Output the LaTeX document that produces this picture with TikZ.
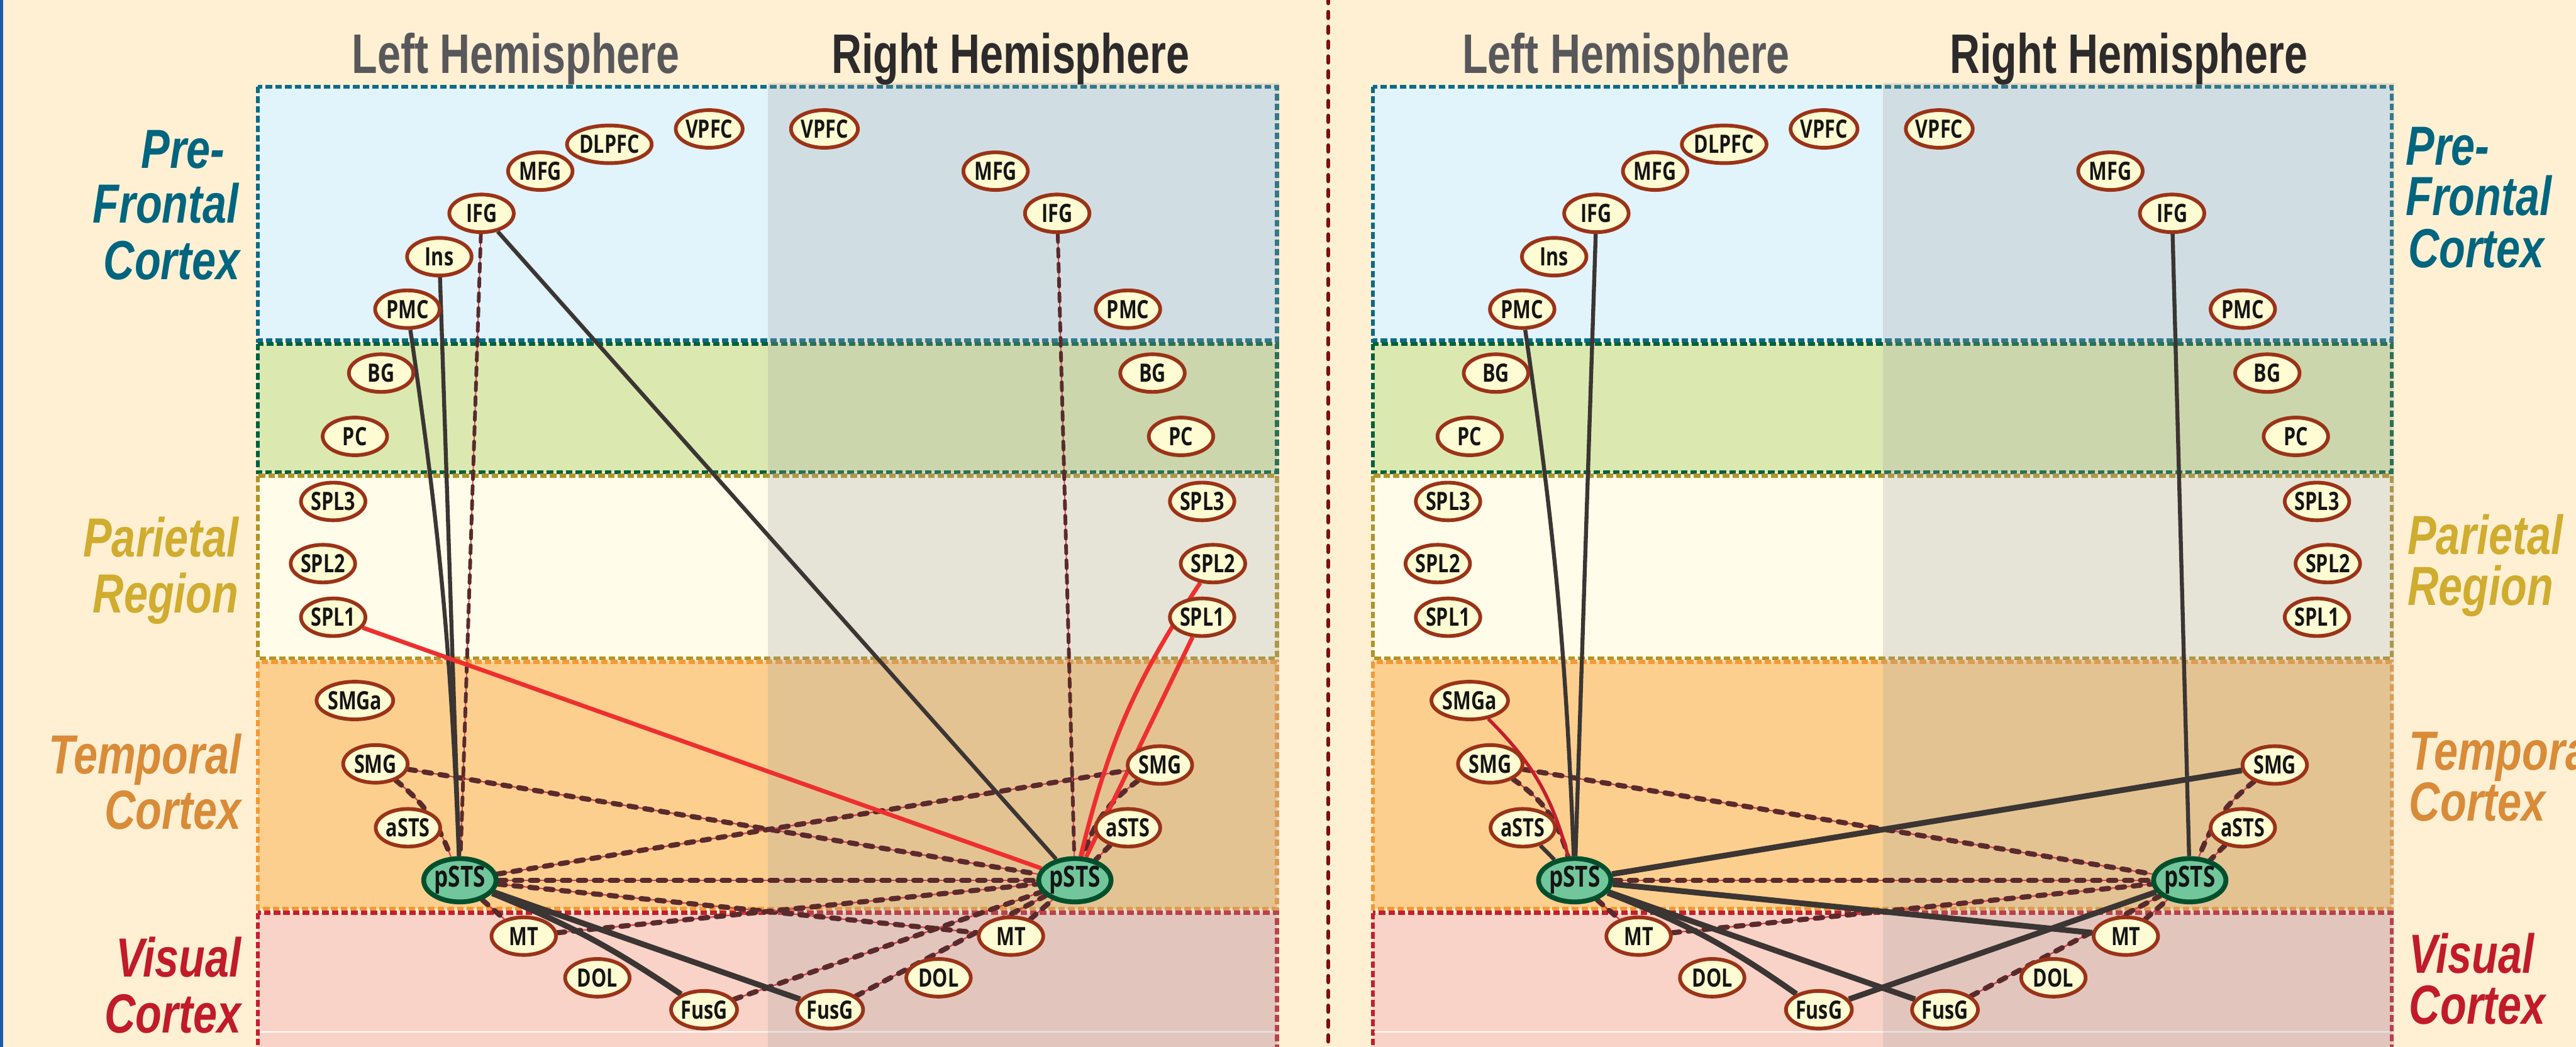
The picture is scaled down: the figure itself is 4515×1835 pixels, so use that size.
\documentclass[tikz,border=0pt]{standalone}
\usepackage{fontspec}
\usetikzlibrary{shapes.geometric}
\newfontfamily\nodefont{Open Sans}[FakeStretch=0.76]
\newfontfamily\headfont{Liberation Sans}[FakeStretch=0.75]
\newfontfamily\regfont{Liberation Sans}[FakeStretch=0.78]
\definecolor{bgcream}{HTML}{FFF0D4}
\definecolor{edgeblue}{HTML}{1A5CAA}
\definecolor{sepred}{HTML}{7A1012}
\definecolor{pffill}{HTML}{E1F3FB}
\definecolor{pfedge}{HTML}{0C6B86}
\definecolor{gnfill}{HTML}{DBE9B0}
\definecolor{gnedge}{HTML}{00603E}
\definecolor{parfill}{HTML}{FFFCE9}
\definecolor{paredge}{HTML}{B0952A}
\definecolor{tmpfill}{HTML}{FCCF8E}
\definecolor{tmpedge}{HTML}{F29A38}
\definecolor{visfill}{HTML}{F9D3C8}
\definecolor{visedge}{HTML}{C3202F}
\definecolor{shadegray}{HTML}{A2A2A2}
\definecolor{roifill}{HTML}{FFFBD2}
\definecolor{roiedge}{HTML}{9B3318}
\definecolor{hubfill}{HTML}{72C69B}
\definecolor{hubedge}{HTML}{00502D}
\definecolor{nodetext}{HTML}{151515}
\definecolor{linkdark}{HTML}{3B3533}
\definecolor{linkred}{HTML}{EE2F2F}
\definecolor{linkdkred}{HTML}{C41E2C}
\definecolor{dashdark}{HTML}{5A2A2C}
\definecolor{dashred}{HTML}{E0404A}
\definecolor{lefthead}{HTML}{58585B}
\definecolor{righthead}{HTML}{2D2A2B}
\definecolor{pflab}{HTML}{00657F}
\definecolor{parlab}{HTML}{D0AC2F}
\definecolor{tmplab}{HTML}{D98B38}
\definecolor{vislab}{HTML}{C11B29}
\pgfdeclarelayer{bg}
\pgfdeclarelayer{edges}
\pgfsetlayers{bg,edges,main}
\tikzset{
  roi/.style={ellipse, draw=roiedge, fill=roifill, line width=0.65mm,
    minimum width=11.3mm, minimum height=6.6mm, inner sep=0pt, text=nodetext,
    font=\nodefont\bfseries\fontsize{12.6}{13}\selectfont},
  hub/.style={ellipse, draw=hubedge, fill=hubfill, line width=0.85mm,
    minimum width=11.6mm, minimum height=7.6mm, inner sep=0pt, text=nodetext,
    font=\nodefont\bfseries\fontsize{14.5}{16}\selectfont},
  solidlink/.style={draw=linkdark, line width=0.7mm},
  heavylink/.style={draw=linkdark, line width=1.0mm},
  redlink/.style={draw=linkred, line width=0.75mm},
  dkredlink/.style={draw=linkdkred, line width=0.6mm},
  dashlink/.style={draw=dashdark, line width=0.9mm, line cap=round,
    dash pattern=on 1.3mm off 1.5mm,
    preaction={draw=dashred, line width=0.25mm, solid}},
  thindash/.style={draw=dashdark, line width=0.65mm, line cap=round,
    dash pattern=on 1.4mm off 1.2mm,
    preaction={draw=dashred, line width=0.2mm, solid}},
  boxdash/.style={line width=0.7mm, dash pattern=on 1.15mm off 0.55mm},
  lab/.style={font=\regfont\bfseries\itshape\fontsize{27.5}{28}\selectfont, inner sep=0pt},
  head/.style={font=\headfont\bfseries\fontsize{27.8}{30}\selectfont, inner sep=0pt, anchor=base},
}
\begin{document}
\begin{tikzpicture}[x=0.1mm,y=-0.1mm]
\useasboundingbox (0,0) rectangle (4515,1835);
\begin{pgfonlayer}{bg}
\fill[bgcream] (0,0) rectangle (4515,1835);
\fill[edgeblue] (0,0) rectangle (6,1835);
\draw[sepred, line width=0.75mm, line cap=round, dash pattern=on 1.05mm off 1.55mm] (2328,-5) -- (2328,1850);
\foreach \dx in {0,1954}{
 \begin{scope}[shift={(\dx,0)}]
  \fill[pffill] (452,152) rectangle (2238,597);
  \fill[gnfill] (452,603) rectangle (2238,828);
  \fill[parfill] (452,834) rectangle (2238,1154);
  \fill[tmpfill] (452,1160) rectangle (2238,1593);
  \fill[visfill] (452,1600) rectangle (2238,1950);
  \draw[pfedge, boxdash] (452,152) rectangle (2238,597);
  \draw[gnedge, boxdash] (452,603) rectangle (2238,828);
  \draw[paredge, boxdash] (452,834) rectangle (2238,1154);
  \draw[tmpedge, boxdash] (452,1160) rectangle (2238,1593);
  \draw[visedge, boxdash] (452,1600) rectangle (2238,1950);
  \draw[white, line width=0.2mm] (455,1809) -- (2235,1809);
  \fill[shadegray, opacity=0.26] (1346,145) rectangle (2242,1840);
 \end{scope}}
\end{pgfonlayer}
% headers
\node[head, text=lefthead] (h1) at (904,128) {Left Hemisphere};
\node[head, text=righthead] (h2) at (1771,128) {Right Hemisphere};
\node[head, text=lefthead] (h3) at (2850,128) {Left Hemisphere};
\node[head, text=righthead] (h4) at (3731,128) {Right Hemisphere};
% region labels left
\node[lab, text=pflab, anchor=base east] (l1) at (395,295) {Pre-};
\node[lab, text=pflab, anchor=base east] (l2) at (419,391) {Frontal};
\node[lab, text=pflab, anchor=base east] (l3) at (421,490) {Cortex};
\node[lab, text=parlab, anchor=base east] (l4) at (419,976) {Parietal};
\node[lab, text=parlab, anchor=base east] (l5) at (419,1074) {Region};
\node[lab, text=tmplab, anchor=base east] (l6) at (423,1356) {Temporal};
\node[lab, text=tmplab, anchor=base east] (l7) at (423,1453) {Cortex};
\node[lab, text=vislab, anchor=base east] (l8) at (423,1712) {Visual};
\node[lab, text=vislab, anchor=base east] (l9) at (423,1810) {Cortex};
% region labels right
\node[lab, text=pflab, anchor=base west] (r1) at (4216,289) {Pre-};
\node[lab, text=pflab, anchor=base west] (r2) at (4216,378) {Frontal};
\node[lab, text=pflab, anchor=base west] (r3) at (4220,469) {Cortex};
\node[lab, text=parlab, anchor=base west] (r4) at (4219,972) {Parietal};
\node[lab, text=parlab, anchor=base west] (r5) at (4219,1061) {Region};
\node[lab, text=tmplab, anchor=base west] (r6) at (4222,1350) {Temporal};
\node[lab, text=tmplab, anchor=base west] (r7) at (4222,1439) {Cortex};
\node[lab, text=vislab, anchor=base west] (r8) at (4222,1706) {Visual};
\node[lab, text=vislab, anchor=base west] (r9) at (4222,1795) {Cortex};
% nodes
\foreach \p/\dx in {a/0,b/1954}{
 \begin{scope}[shift={(\dx,0)}]
  \foreach \n/\x/\y in {VPFC/1243/226, DLPFC/1068/253, MFG/947/300, IFG/844/374,
     Ins/770/450, PMC/714/542, BG/668/654, PC/622/765, SPL3/584/879, SPL2/566/988,
     SPL1/584/1082, SMGa/622/1228, SMG/658/1339, aSTS/715/1451, MT/918/1641,
     DOL/1047/1714, FusG/1234/1770}
   \node[roi] (\p L\n) at (\x,\y) {\n};
  \foreach \n/\x/\y in {VPFC/1445/226, MFG/1745/300, IFG/1853/374, PMC/1977/542,
     BG/2020/654, PC/2070/765, SPL3/2107/879, SPL2/2126/988, SPL1/2107/1082,
     SMG/2033/1341, aSTS/1977/1451, MT/1772/1641, DOL/1645/1714, FusG/1455/1770}
   \node[roi] (\p R\n) at (\x,\y) {\n};
  \node[hub] (\p LpSTS) at (806,1543) {pSTS};
  \node[hub] (\p RpSTS) at (1884,1543) {pSTS};
 \end{scope}}
\begin{pgfonlayer}{edges}
% panel a
\draw[dashlink] (aLSMG) to[bend left=15] (aLpSTS);
\draw[dashlink] (aLSMG) -- (aRpSTS);
\draw[dashlink] (aLpSTS) -- (aRSMG);
\draw[dashlink] (aLpSTS) -- (aRpSTS);
\draw[dashlink] (aLpSTS) -- (aRMT);
\draw[dashlink] (aLMT) -- (aRpSTS);
\draw[dashlink] (aLpSTS) -- (aLMT);
\draw[dashlink] (aLFusG) -- (aRpSTS);
\draw[dashlink] (aRFusG) -- (aRpSTS);
\draw[dashlink] (aRMT) -- (aRpSTS);
\draw[dashlink] (aRSMG) to[bend right=18] (aRpSTS);
\draw[dashlink] (aRaSTS) -- (aRpSTS);
\draw[thindash] (aLIFG) -- (aLpSTS);
\draw[thindash] (aRIFG) -- (aRpSTS);
\draw[solidlink] (aLPMC) to[bend left=3] (aLpSTS);
\draw[solidlink] (aLIns) -- (aLpSTS);
\draw[solidlink] (aLIFG) -- (aRpSTS);
\draw[redlink] (aLSPL1) -- (aRpSTS);
\draw[redlink] (aRSPL2) to[bend right=10] (aRpSTS);
\draw[redlink] (aRSPL1) -- (aRpSTS);
\draw[heavylink] (aLpSTS) to[bend left=6] (aLFusG);
\draw[heavylink] (aLpSTS) -- (aRFusG);
% panel b
\draw[dashlink] (bLSMG) to[bend left=20] (bLpSTS);
\draw[dashlink] (bLSMG) -- (bRpSTS);
\draw[dashlink] (bLpSTS) -- (bRpSTS);
\draw[dashlink] (bLMT) -- (bRpSTS);
\draw[dashlink] (bLpSTS) -- (bLMT);
\draw[dashlink] (bRFusG) -- (bRpSTS);
\draw[dashlink] (bRMT) -- (bRpSTS);
\draw[dashlink] (bRSMG) to[bend right=15] (bRpSTS);
\draw[dashlink] (bRaSTS) -- (bRpSTS);
\draw[solidlink] (bLPMC) to[bend left=3] (bLpSTS);
\draw[solidlink] (bLIFG) -- (bLpSTS);
\draw[solidlink] (bLaSTS) -- (bLpSTS);
\draw[solidlink] (bRIFG) -- (bRpSTS);
\draw[dkredlink] (bLSMGa) to[bend left=15] (bLpSTS);
\draw[heavylink] (bLpSTS) -- (bRSMG);
\draw[heavylink] (bLpSTS) -- (bRMT);
\draw[heavylink] (bLpSTS) to[bend left=7] (bLFusG);
\draw[heavylink] (bLpSTS) -- (bRFusG);
\draw[heavylink] (bLFusG) -- (bRpSTS);
\end{pgfonlayer}
\end{tikzpicture}
\end{document}
